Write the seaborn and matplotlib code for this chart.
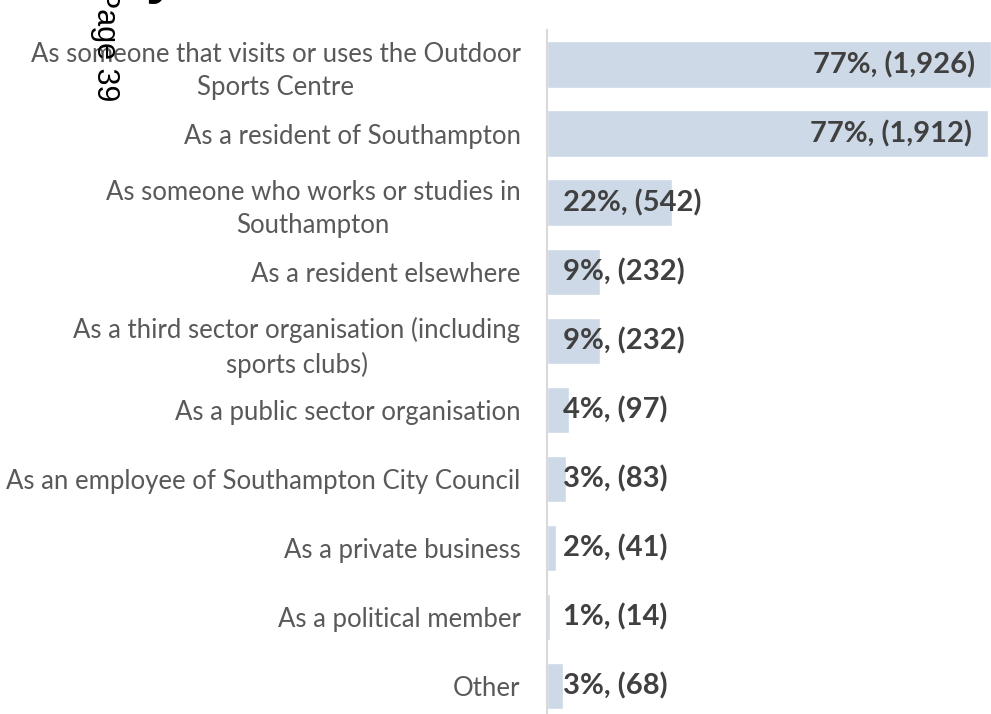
import matplotlib
matplotlib.use("Agg")
import matplotlib.pyplot as plt
import pandas as pd
import seaborn as sns

categories = [
    "As someone that visits or uses the Outdoor\nSports Centre",
    "As a resident of Southampton",
    "As someone who works or studies in\nSouthampton",
    "As a resident elsewhere",
    "As a third sector organisation (including\nsports clubs)",
    "As a public sector organisation",
    "As an employee of Southampton City Council",
    "As a private business",
    "As a political member",
    "Other",
]
counts = [1926, 1912, 542, 232, 232, 97, 83, 41, 14, 68]
percents = [77, 77, 22, 9, 9, 4, 3, 2, 1, 3]

BAR_COLOR = "#cdd9e6"
LABEL_COLOR = "#595959"
VALUE_COLOR = "#404040"

sns.set_theme(style="white")
plt.rcParams["font.family"] = ["Lato", "DejaVu Sans"]

df = pd.DataFrame({"category": categories, "count": counts, "pct": percents})

fig = plt.figure(figsize=(9.91, 7.14), dpi=100)
ax = fig.add_axes([547 / 991, -6.5 / 714, 444 / 991, 690.5 / 714])

sns.barplot(data=df, x="count", y="category", orient="h", color=BAR_COLOR,
            saturation=1, width=0.67, ax=ax)

ax.set_xlim(0, max(counts))
ax.set_xlabel("")
ax.set_ylabel("")
ax.set_xticks([])
ax.tick_params(axis="y", length=0, pad=19, labelsize=18.5, labelcolor=LABEL_COLOR)
for lbl in ax.get_yticklabels():
    lbl.set_multialignment("center")
    lbl.set_linespacing(1.4)

for side in ["top", "right", "bottom"]:
    ax.spines[side].set_visible(False)
ax.spines["left"].set_color("#d9d9d9")
ax.spines["left"].set_linewidth(1.5)

# value labels: inside end for the big bars, near base for the rest
for i, (c, p) in enumerate(zip(counts, percents)):
    txt = f"{p}%, ({c:,})"
    if c > 0.5 * max(counts):
        ax.annotate(txt, (c, i), xytext=(-16, 0), textcoords="offset pixels",
                    ha="right", va="center", fontsize=21, fontweight="bold",
                    color=VALUE_COLOR)
    else:
        ax.annotate(txt, (0, i), xytext=(16, 0), textcoords="offset pixels",
                    ha="left", va="center", fontsize=21, fontweight="bold",
                    color=VALUE_COLOR)

# page stamp overlapping the top left
fig.text(105 / 991, 1 - 101 / 714, "Page 39", rotation=270, ha="center", va="bottom",
         fontsize=22, family="Liberation Sans", color="black")
# tail of the cut-off heading above the chart
fig.text(146 / 991, 1 + 8 / 714, "y", ha="left", va="baseline",
         fontsize=40, fontweight="bold", family="Liberation Sans", color="black")

fig.savefig("out.png", dpi=100)
